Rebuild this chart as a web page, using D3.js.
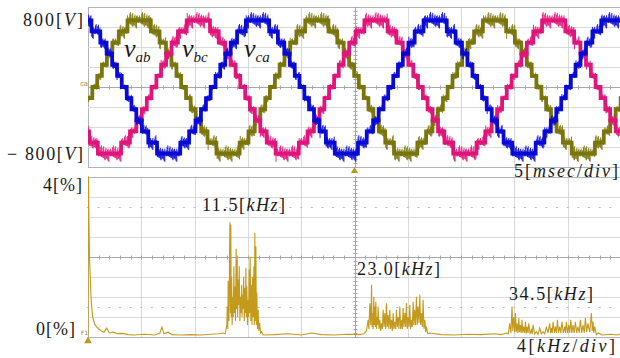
<!DOCTYPE html>
<html>
<head>
<meta charset="utf-8">
<script src="https://cdn.jsdelivr.net/npm/d3@7"></script>
<style>
  body { margin: 0; background: #fff; }
  svg { display: block; }
  text { font-family: "Liberation Serif", "DejaVu Serif", serif; fill: #1a1a1a; }
</style>
</head>
<body>
<div id="graph"></div>
<script>
// ---- top panel: line voltages, 5 ms/div x 10 div, 240 V/div x 8 div
var timeDomain = [0, 50];
var voltDomain = [-960, 960];
var timeGrid = [0, 5, 10, 15, 20, 25, 30, 35, 40, 45, 50];
var voltGrid = [-960, -720, -480, -240, 0, 240, 480, 720, 960];
var fundHz = 60;
var seriesNames = ['vab', 'vbc', 'vca'];
var seriesPeakMs = [4.8, 10.35, 15.9];          // time of positive peak
var seriesColors = ['#7a760c', '#e0157a', '#0a0ad6'];
var switchAngles = [5, 14.5, 24.6, 35.7, 48.6, 66.4]; // deg, quarter wave
var stepLevels = [0, 133, 267, 400, 533, 667, 800];    // V
var ripplePattern = [2, 6, 1, 4, 8, 3, 5, 1, 7, 2, 4, 9, 3, 6, 2, 5];

// ---- bottom panel: spectrum, 4 kHz/div x 10 div, 0.5 %/div x 8 div
var freqDomain = [0, 40];
var pctDomain = [0, 4];
var freqGrid = [0, 4, 8, 12, 16, 20, 24, 28, 32, 36, 40];
var pctGrid = [0, 0.5, 1, 1.5, 2, 2.5, 3, 3.5, 4];

var lowBand = [[0, 0.05], [0.03, 4.4], [0.07, 2.9], [0.12, 1.9], [0.18, 1.4], [0.25, 0.85],
  [0.35, 0.5], [0.5, 0.32], [0.65, 0.25], [0.8, 0.2], [1.0, 0.15], [1.2, 0.12], [1.4, 0.22],
  [1.6, 0.1], [1.9, 0.12], [2.2, 0.08], [2.6, 0.09], [3.0, 0.06], [3.5, 0.05], [4.2, 0.07],
  [5.0, 0.05], [5.4, 0.1], [5.55, 0.25], [5.7, 0.08], [6.0, 0.12], [6.3, 0.06], [7.0, 0.05],
  [7.8, 0.06], [8.5, 0.05], [9.2, 0.07], [9.8, 0.08], [10.1, 0.1]];
var band1 = [[10.3, 0.08], [10.42, 0.3], [10.45, 0.76], [10.49, 0.2], [10.52, 1.4], [10.58, 0.4],
  [10.65, 2.86], [10.69, 0.6], [10.72, 2.8], [10.75, 0.5], [10.78, 1.5], [10.82, 0.3], [10.85, 1.0],
  [10.9, 0.5], [10.95, 1.76], [10.98, 0.6], [11.02, 1.26], [11.07, 0.4], [11.12, 2.2], [11.16, 0.7],
  [11.2, 1.93], [11.23, 0.5], [11.27, 1.43], [11.31, 0.8], [11.35, 1.76], [11.4, 0.4], [11.45, 1.0],
  [11.49, 0.6], [11.53, 1.3], [11.56, 0.5], [11.6, 1.05], [11.64, 0.7], [11.68, 1.5], [11.73, 0.4],
  [11.78, 1.22], [11.81, 0.6], [11.85, 1.72], [11.88, 0.5], [11.92, 1.26], [11.97, 0.3], [12.02, 0.93],
  [12.06, 0.5], [12.1, 1.68], [12.13, 0.6], [12.17, 2.0], [12.22, 0.4], [12.28, 1.3], [12.31, 0.3],
  [12.35, 1.5], [12.4, 0.5], [12.45, 1.76], [12.48, 0.3], [12.52, 2.6], [12.56, 0.4], [12.6, 2.26],
  [12.63, 0.3], [12.67, 1.1], [12.72, 0.2], [12.77, 0.68], [12.82, 0.15], [12.88, 0.35], [12.95, 0.1],
  [13.03, 0.13], [13.15, 0.05]];
var midFloor1 = [[14.0, 0.06], [15.0, 0.08], [16.0, 0.05], [16.8, 0.1], [17.5, 0.06], [18.5, 0.05],
  [19.5, 0.07], [20.3, 0.06], [20.7, 0.08]];
var band2 = [[20.9, 0.15], [21.02, 0.43], [21.08, 0.2], [21.15, 0.84], [21.22, 0.3], [21.28, 1.3],
  [21.32, 0.25], [21.35, 0.6], [21.4, 0.2], [21.45, 1.0], [21.49, 0.3], [21.52, 0.76], [21.56, 0.25],
  [21.6, 0.88], [21.65, 0.2], [21.7, 0.5], [21.74, 0.3], [21.77, 0.76], [21.84, 0.2], [21.9, 0.43],
  [21.96, 0.15], [22.03, 0.34], [22.09, 0.2], [22.15, 0.68], [22.22, 0.25], [22.28, 0.6], [22.34, 0.2],
  [22.4, 0.84], [22.46, 0.25], [22.52, 0.55], [22.58, 0.2], [22.65, 0.68], [22.71, 0.2], [22.78, 0.43],
  [22.84, 0.15], [22.9, 0.6], [22.96, 0.2], [23.02, 0.38], [23.09, 0.2], [23.15, 0.68], [23.21, 0.25],
  [23.27, 0.5], [23.33, 0.2], [23.4, 0.76], [23.46, 0.2], [23.53, 0.43], [23.59, 0.2], [23.65, 0.72],
  [23.71, 0.25], [23.78, 0.6], [23.84, 0.25], [23.9, 0.84], [23.96, 0.2], [24.02, 0.5], [24.09, 0.25],
  [24.15, 0.8], [24.21, 0.2], [24.28, 0.43], [24.34, 0.25], [24.4, 0.88], [24.46, 0.3], [24.52, 0.68],
  [24.58, 0.3], [24.65, 1.0], [24.71, 0.3], [24.77, 0.76], [24.84, 0.35], [24.9, 1.05], [24.96, 0.3],
  [25.03, 0.6], [25.09, 0.25], [25.15, 0.93], [25.21, 0.2], [25.28, 0.43], [25.34, 0.12], [25.4, 0.26],
  [25.5, 0.08], [25.65, 0.1]];
var midFloor2 = [[26.5, 0.06], [27.5, 0.05], [28.5, 0.07], [29.5, 0.06], [30.5, 0.08], [31.0, 0.06]];
var band3 = [[31.4, 0.1], [31.55, 0.08], [31.65, 0.34], [31.74, 0.1], [31.82, 0.76], [31.88, 0.15],
  [31.95, 0.5], [32.02, 0.12], [32.08, 0.6], [32.14, 0.12], [32.2, 0.34], [32.27, 0.1], [32.33, 0.47],
  [32.39, 0.12], [32.45, 0.3], [32.51, 0.1], [32.57, 0.43], [32.63, 0.1], [32.7, 0.26], [32.77, 0.1],
  [32.83, 0.38], [32.89, 0.08], [32.95, 0.26], [33.02, 0.1], [33.08, 0.34], [33.18, 0.08], [33.28, 0.18],
  [33.34, 0.08], [33.4, 0.3], [33.52, 0.07], [33.65, 0.13], [33.78, 0.07], [33.9, 0.22], [34.02, 0.08],
  [34.15, 0.13], [34.28, 0.08], [34.4, 0.26], [34.52, 0.1], [34.65, 0.34], [34.72, 0.1], [34.78, 0.22],
  [34.84, 0.1], [34.9, 0.38], [35.0, 0.1], [35.08, 0.26], [35.15, 0.1], [35.23, 0.43], [35.31, 0.1],
  [35.4, 0.26], [35.48, 0.1], [35.57, 0.38], [35.67, 0.1], [35.78, 0.26], [35.84, 0.1], [35.9, 0.38],
  [35.99, 0.1], [36.08, 0.3], [36.15, 0.1], [36.23, 0.43], [36.31, 0.1], [36.4, 0.3], [36.49, 0.1],
  [36.58, 0.38], [36.67, 0.1], [36.77, 0.26], [36.86, 0.1], [36.95, 0.43], [37.05, 0.1], [37.15, 0.3],
  [37.24, 0.1], [37.33, 0.47], [37.42, 0.12], [37.52, 0.34], [37.65, 0.12], [37.78, 0.6], [37.84, 0.15],
  [37.9, 0.38], [37.96, 0.1], [38.03, 0.26], [38.15, 0.06], [38.28, 0.1]];
var highFloor = [[38.6, 0.05], [39.2, 0.07], [39.7, 0.05], [40, 0.08]];

var width = 620, height = 358;
var plotLeft = 88, plotRight = 621;
var topBox = [7, 167], botBox = [176.5, 337];

var svg = d3.select('#graph').append('svg').attr('width', width).attr('height', height);

var xT = d3.scaleLinear().domain(timeDomain).range([plotLeft, plotRight]);
var yV = d3.scaleLinear().domain(voltDomain).range([topBox[1], topBox[0]]);
var xF = d3.scaleLinear().domain(freqDomain).range([plotLeft, plotRight]);
var yP = d3.scaleLinear().domain(pctDomain).range([botBox[1], botBox[0]]);

var drawGrid = function(x, y, xs, ys, xMid, yMid, dotted){
  var g = svg.append('g');
  var y0 = y.range()[0], y1 = y.range()[1];
  var x0 = x.range()[0], x1 = x.range()[1];
  g.selectAll('line.v').data(xs).enter().append('line')
    .attr('x1', function(d){return Math.round(x(d)) + 0.5})
    .attr('x2', function(d){return Math.round(x(d)) + 0.5})
    .attr('y1', y1).attr('y2', y0)
    .attr('stroke', function(d, i){return (i == 0 || i == xs.length - 1) ? '#b4b4b4' : '#d9d9d9'})
    .attr('stroke-width', 1);
  g.selectAll('line.h').data(ys).enter().append('line')
    .attr('y1', function(d){return Math.round(y(d)) + 0.5})
    .attr('y2', function(d){return Math.round(y(d)) + 0.5})
    .attr('x1', x0).attr('x2', x1)
    .attr('stroke', function(d, i){return (i == 0 || i == ys.length - 1) ? '#b4b4b4' : '#d9d9d9'})
    .attr('stroke-width', 1);
  // centre cross lines with minor ticks
  var cy = Math.round(y(yMid)) + 0.5, cx = Math.round(x(xMid)) + 0.5;
  g.append('line').attr('x1', x0).attr('x2', x1).attr('y1', cy).attr('y2', cy).attr('stroke', '#a8a8a8');
  g.append('line').attr('x1', cx).attr('x2', cx).attr('y1', y1).attr('y2', y0).attr('stroke', '#a8a8a8');
  var xStep = (xs[1] - xs[0]) / 5, yStep = (ys[1] - ys[0]) / 5;
  var xMinor = d3.range(xs[0], xs[xs.length - 1] + 1e-9, xStep);
  var yMinor = d3.range(ys[0], ys[ys.length - 1] + 1e-9, yStep);
  g.selectAll('line.mx').data(xMinor).enter().append('line')
    .attr('x1', function(d){return Math.round(x(d)) + 0.5})
    .attr('x2', function(d){return Math.round(x(d)) + 0.5})
    .attr('y1', cy - 2).attr('y2', cy + 2).attr('stroke', '#a8a8a8');
  g.selectAll('line.my').data(yMinor).enter().append('line')
    .attr('y1', function(d){return Math.round(y(d)) + 0.5})
    .attr('y2', function(d){return Math.round(y(d)) + 0.5})
    .attr('x1', cx - 2).attr('x2', cx + 2).attr('stroke', '#a8a8a8');
  if (dotted) {
    dotted.forEach(function(v){
      g.selectAll(null).data(xMinor).enter().append('line')
        .attr('x1', function(d){return x(d) - 1}).attr('x2', function(d){return x(d) + 1})
        .attr('y1', Math.round(y(v)) + 0.5).attr('y2', Math.round(y(v)) + 0.5)
        .attr('stroke', '#b8b8b8');
    });
  }
};

drawGrid(xT, yV, timeGrid, voltGrid, 25, 0, null);
drawGrid(xF, yP, freqGrid, pctGrid, 20, 2, [3.25, 0.75]);

// clip paths
var defs = svg.append('defs');
defs.append('clipPath').attr('id', 'clipTop').append('rect')
  .attr('x', plotLeft).attr('y', topBox[0]).attr('width', plotRight - plotLeft).attr('height', topBox[1] - topBox[0]);
defs.append('clipPath').attr('id', 'clipBot').append('rect')
  .attr('x', plotLeft).attr('y', botBox[0]).attr('width', plotRight - plotLeft).attr('height', botBox[1] - botBox[0] + 1);

// staircase value from phase angle (deg)
var stair = function(deg){
  deg = ((deg % 360) + 360) % 360;
  var sign = 1;
  if (deg >= 180) { sign = -1; deg -= 180; }
  if (deg > 90) deg = 180 - deg;
  var n = 0;
  switchAngles.forEach(function(a){ if (deg >= a) n++; });
  return sign * stepLevels[n];
};
var phaseDeg = function(t, k){ return 90 + (t - seriesPeakMs[k]) * 360 * fundHz / 1000; };

var wave = svg.append('g').attr('clip-path', 'url(#clipTop)');
var tFine = d3.range(timeDomain[0], timeDomain[1] + 0.005, 0.01);
var tRipple = d3.range(timeDomain[0], timeDomain[1], 0.07);

seriesNames.forEach(function(name, k){
  var pts = tFine.map(function(t){ return [t, stair(phaseDeg(t, k))]; });
  var g = wave.append('g').attr('class', name);
  g.append('path')
    .attr('d', d3.line().x(function(d){return xT(d[0])}).y(function(d){return yV(d[1])})(pts))
    .attr('fill', 'none').attr('stroke', seriesColors[k]).attr('stroke-width', 3.8)
    .attr('stroke-linejoin', 'miter');
  g.selectAll('line').data(tRipple).enter().append('line')
    .attr('x1', function(d){return xT(d)}).attr('x2', function(d){return xT(d)})
    .attr('y1', function(d, i){
      var v = stair(phaseDeg(d, k)), f = 0.3 + 0.7 * Math.abs(v) / 800;
      return yV(v) - ripplePattern[(i * 3 + k * 5) % 16] * f * 0.8 - 1;
    })
    .attr('y2', function(d, i){
      var v = stair(phaseDeg(d, k)), f = 0.3 + 0.7 * Math.abs(v) / 800;
      return yV(v) + ripplePattern[(i * 7 + k * 3 + 4) % 16] * f * 0.8 + 1;
    })
    .attr('stroke', seriesColors[k]).attr('stroke-width', 0.9);
});

// series labels
var labelPos = [[124, 57], [182, 57], [244, 57]];
var labelSubs = ['ab', 'bc', 'ca'];
labelSubs.forEach(function(s, i){
  var t = svg.append('text').attr('x', labelPos[i][0]).attr('y', labelPos[i][1])
    .style('font-style', 'italic');
  t.append('tspan').attr('font-size', 26).text('v');
  t.append('tspan').attr('font-size', 15).attr('dy', 5).text(s);
});

// spectrum
var spectrum = [].concat(lowBand, band1, midFloor1, band2, midFloor2, band3, highFloor);
svg.append('g').attr('clip-path', 'url(#clipBot)').append('path')
  .attr('d', d3.line().x(function(d){return xF(d[0])}).y(function(d){return yP(d[1])})(spectrum))
  .attr('fill', 'none').attr('stroke', '#c49a1c').attr('stroke-width', 1.1);

// text labels (LaTeX-like)
var addLabel = function(x, y, parts, len){
  var t = svg.append('text').attr('x', x).attr('y', y).attr('font-size', 18)
    .attr('textLength', len).attr('lengthAdjust', 'spacing');
  parts.forEach(function(p){
    t.append('tspan').style('font-style', p[1] ? 'italic' : 'normal').text(p[0]);
  });
};
addLabel(23, 26, [['800[', 0], ['V', 1], [']', 0]], 60);
addLabel(7, 160, [['\u2212 800[', 0], ['V', 1], [']', 0]], 76);
addLabel(514, 177, [['5[', 0], ['msec', 1], ['/', 0], ['div', 1], [']', 0]], 104);
addLabel(43, 191, [['4[%]', 0]], 39);
addLabel(36, 335, [['0[%]', 0]], 39);
addLabel(202, 211, [['11.5[', 0], ['kHz', 1], [']', 0]], 83);
addLabel(357, 275, [['23.0[', 0], ['kHz', 1], [']', 0]], 83);
addLabel(509, 300, [['34.5[', 0], ['kHz', 1], [']', 0]], 84);
addLabel(517, 352, [['4[', 0], ['kHz', 1], ['/', 0], ['div', 1], [']', 0]], 98);

// scope markers
svg.append('text').attr('x', 80).attr('y', 86).attr('font-size', 7)
  .style('font-family', 'DejaVu Sans').style('fill', '#c8823a').text('ca');
svg.append('text').attr('x', 81).attr('y', 335).attr('font-size', 6)
  .style('font-family', 'DejaVu Sans').style('fill', '#a08020').text('F1');
svg.append('path').attr('d', d3.symbol().type(d3.symbolTriangle).size(22)())
  .attr('transform', 'translate(' + xT(25) + ',171)').attr('fill', '#b09a20');
svg.append('path').attr('d', d3.symbol().type(d3.symbolTriangle).size(26)())
  .attr('transform', 'translate(' + xF(0) + ',341)').attr('fill', '#b89a18');
</script>
</body>
</html>
